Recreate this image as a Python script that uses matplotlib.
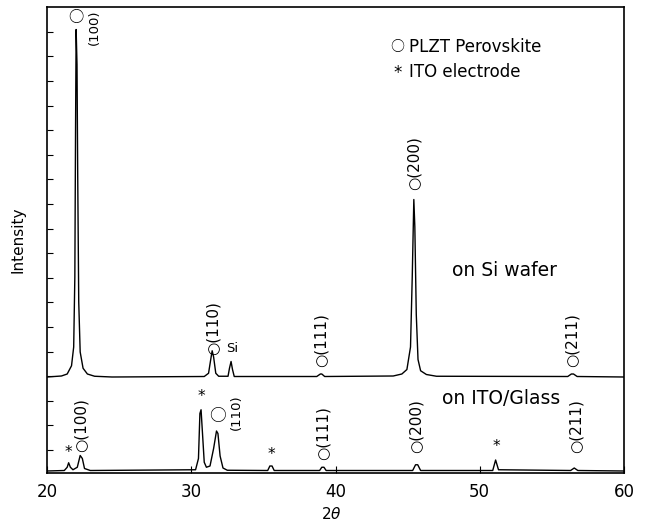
import matplotlib
matplotlib.use('Agg')
import matplotlib.pyplot as plt
import numpy as np

matplotlib.rcParams['font.family'] = ['DejaVu Sans']
jp = ['Noto Sans CJK JP', 'DejaVu Sans']

# trace: 2theta (deg), intensity above its own baseline (arb.)
si_x = [20.0, 21.0, 21.4, 21.7, 21.85, 21.93, 21.98, 22.02, 22.08, 22.13, 22.2, 22.3, 22.5, 22.8, 23.3, 24.5,
        30.9, 31.2, 31.35, 31.45, 31.55, 31.7, 31.9, 32.55, 32.65, 32.76, 32.86, 32.98,
        38.7, 38.95, 39.05, 39.25, 44.0, 44.6, 44.95, 45.2, 45.32, 45.43, 45.5, 45.6, 45.72, 45.9, 46.3, 47.0,
        56.1, 56.35, 56.5, 56.75, 60.0]
si_y = [0.0, 0.04, 0.12, 0.45, 1.2, 4.0, 10.0, 13.9, 12.5, 8.0, 3.0, 1.0, 0.35, 0.12, 0.03, 0.0,
        0.02, 0.15, 0.7, 1.05, 0.8, 0.15, 0.03, 0.03, 0.35, 0.62, 0.3, 0.02,
        0.02, 0.12, 0.12, 0.02, 0.04, 0.12, 0.3, 1.2, 4.0, 7.1, 6.0, 2.5, 0.7, 0.25, 0.1, 0.03,
        0.02, 0.12, 0.12, 0.02, 0.0]

ito_x = [20.0, 21.2, 21.4, 21.5, 21.62, 21.8, 22.1, 22.3, 22.45, 22.6, 23.0,
         30.3, 30.5, 30.6, 30.68, 30.78, 30.9, 31.05, 31.3, 31.55, 31.75, 31.85, 32.0, 32.2, 32.5,
         35.3, 35.45, 35.6, 35.75, 38.9, 39.05, 39.2, 39.35,
         45.35, 45.55, 45.7, 45.9, 50.9, 51.1, 51.3, 56.3, 56.55, 56.8, 60.0]
ito_y = [0.0, 0.02, 0.15, 0.33, 0.15, 0.05, 0.15, 0.62, 0.5, 0.1, 0.02,
         0.05, 0.5, 2.3, 2.45, 1.5, 0.35, 0.15, 0.2, 0.9, 1.6, 1.5, 0.6, 0.12, 0.03,
         0.02, 0.2, 0.2, 0.02, 0.02, 0.15, 0.15, 0.02,
         0.02, 0.25, 0.25, 0.02, 0.02, 0.44, 0.05, 0.02, 0.12, 0.02, 0.0]

si_offset = 3.84
ito_offset = 0.08

# rotated peak labels: (x, y bottom, text)
si_labels = [(31.5, 4.72, '○(110)'), (39.0, 4.25, '○(111)'), (45.45, 11.3, '○(200)'), (56.4, 4.25, '○(211)')]
ito_labels = [(22.36, 0.85, '○(100)'), (39.14, 0.5, '○(111)'), (45.6, 0.8, '○(200)'), (56.7, 0.8, '○(211)')]
ito_stars = [(21.5, 0.8), (30.68, 3.04), (35.53, 0.72), (51.14, 1.04)]

fig = plt.figure(figsize=(6.46, 5.30), dpi=100)
ax = fig.add_axes([47/646, 1-473/530, 577/646, 466/530])

ax.plot(si_x, np.array(si_y) + si_offset, color='black', linewidth=1.0)
ax.plot(ito_x, np.array(ito_y) + ito_offset, color='black', linewidth=1.0)

for x, y, t in si_labels + ito_labels:
    ax.text(x, y, t, rotation=90, ha='center', va='bottom', fontsize=11)
for x, y in ito_stars:
    ax.text(x, y, '*', ha='center', va='center', fontsize=11)

# (100) on Si and (110) on ITO: circle above the peak, index beside it
ax.text(22.0, 18.24, '○', ha='center', va='center', fontsize=11, family=jp)
ax.text(23.26, 17.84, '(100)', rotation=90, ha='center', va='center', fontsize=9.5)
ax.text(31.79, 2.24, '○', ha='center', va='center', fontsize=12, family=jp)
ax.text(33.1, 2.44, '(110)', rotation=90, ha='center', va='center', fontsize=9.5)
ax.text(32.83, 4.96, 'Si', ha='center', va='center', fontsize=9.5)

ax.text(51.7, 8.12, 'on Si wafer', ha='center', va='center', fontsize=13.5)
ax.text(51.5, 3.0, 'on ITO/Glass', ha='center', va='center', fontsize=13.5)

ax.text(44.3, 17.04, '○', ha='center', va='center', fontsize=10, family=jp)
ax.text(45.1, 17.04, 'PLZT Perovskite', ha='left', va='center', fontsize=12)
ax.text(44.3, 16.0, '*', ha='center', va='center', fontsize=12)
ax.text(45.1, 16.04, 'ITO electrode', ha='left', va='center', fontsize=12)

ax.set_xlim(20, 60)
ax.set_ylim(0, 18.64)
ax.set_xticks([20, 30, 40, 50, 60])
ax.set_yticks(np.arange(0.92, 18.6, 0.984))
ax.set_yticklabels([])
ax.tick_params(axis='x', direction='in', length=5, labelsize=12, pad=7)
ax.tick_params(axis='y', direction='in', length=4)
for s in ax.spines.values():
    s.set_linewidth(1.2)

ax.set_xlabel('2$\\theta$', fontsize=11)
ax.xaxis.set_label_coords(0.492, -0.07)
ax.set_ylabel('Intensity', fontsize=11)
ax.yaxis.set_label_coords(-0.038, 0.5)

plt.savefig('out.png', dpi=100)
